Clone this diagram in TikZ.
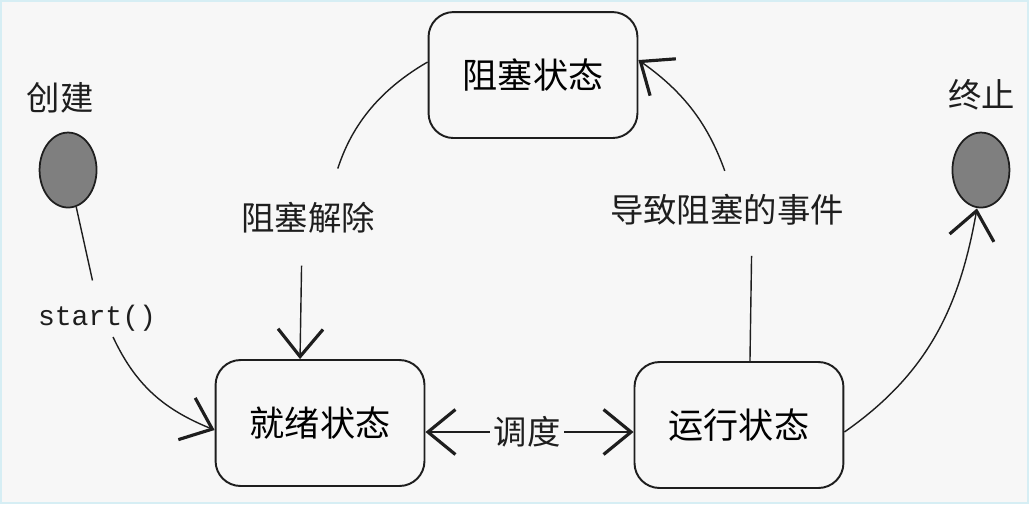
\documentclass[tikz,border=0pt]{standalone}
\usepackage{fontspec}
\setmainfont{Noto Sans CJK SC}
\setmonofont{Liberation Mono}
\usetikzlibrary{arrows.meta, positioning, shapes.geometric}

\definecolor{bgcol}{HTML}{F7F7F7}
\definecolor{framecol}{HTML}{D6EEF4}
\definecolor{inkcol}{HTML}{1E1E1E}
\definecolor{dotcol}{HTML}{7F7F7F}

\begin{document}
\begin{tikzpicture}[
        x=0.02cm, y=-0.02cm,
        statebox/.style={draw=inkcol, line width=1.1pt, rounded corners=0.5cm,
                minimum width=4.18cm, minimum height=2.52cm, font=\fontsize{20}{24}\selectfont},
        enddot/.style={ellipse, draw=inkcol, fill=dotcol, line width=1pt,
                minimum width=1.14cm, minimum height=1.5cm},
        lbl/.style={font=\fontsize{19}{23}\selectfont, text=inkcol, inner sep=2pt},
        flow/.style={inkcol, line width=0.8pt},
        barb/.style={-{Straight Barb[length=5.5mm, width=9mm, line width=1.8pt]}}
    ]
    % background
    \fill[bgcol] (0,0) rectangle (1029,504);
    \draw[framecol, line width=1.2pt] (1,1) rectangle (1028,503);

    % states
    \node[statebox] (blocked) at (533, 75) {阻塞状态};
    \node[statebox] (ready) at (320, 423) {就绪状态};
    \node[statebox] (running) at (739, 425) {运行状态};

    % start and end
    \node[enddot] (create) at (68, 170) {};
    \node[enddot] (stop) at (981, 170) {};
    \node[lbl] at (60, 98) {创建};
    \node[lbl] at (982, 95) {终止};

    % labels
    \node[lbl, font=\ttfamily\fontsize{16}{20}\selectfont] (startlbl) at (97, 318) {start()};
    \node[lbl] (unblock) at (308, 218) {阻塞解除};
    \node[lbl] (event) at (727, 210) {导致阻塞的事件};
    \node[lbl] (sched) at (527, 432) {调度};

    % transitions
    \draw[flow, shorten >=12pt] (create) -- (startlbl.north);
    \draw[flow, barb] (startlbl.south) ++(16,2) to[out=-65, in=158] ([yshift=-0.14cm]ready.west);

    \draw[flow, shorten >=18pt] ([yshift=0.26cm]blocked.west) to[out=-150, in=72] ([xshift=0.4cm]unblock.north);
    \draw[flow, barb, shorten <=16pt] ([xshift=-0.12cm]unblock.south) -- ([xshift=-0.4cm]ready.north);

    \draw[flow, shorten >=15pt] ([xshift=0.22cm]running.north) -- ([xshift=0.5cm]event.south);
    \draw[flow, barb, shorten <=12pt] ([xshift=0.1cm]event.north) to[out=110, in=-35] ([yshift=0.3cm]blocked.east);

    \draw[flow, barb] (sched) -- (sched -| ready.east);
    \draw[flow, barb] (sched) -- (sched -| running.west);

    \draw[flow, barb] ([yshift=-0.14cm]running.east) to[out=35, in=-100] ([xshift=-0.08cm]stop.south);
\end{tikzpicture}
\end{document}
